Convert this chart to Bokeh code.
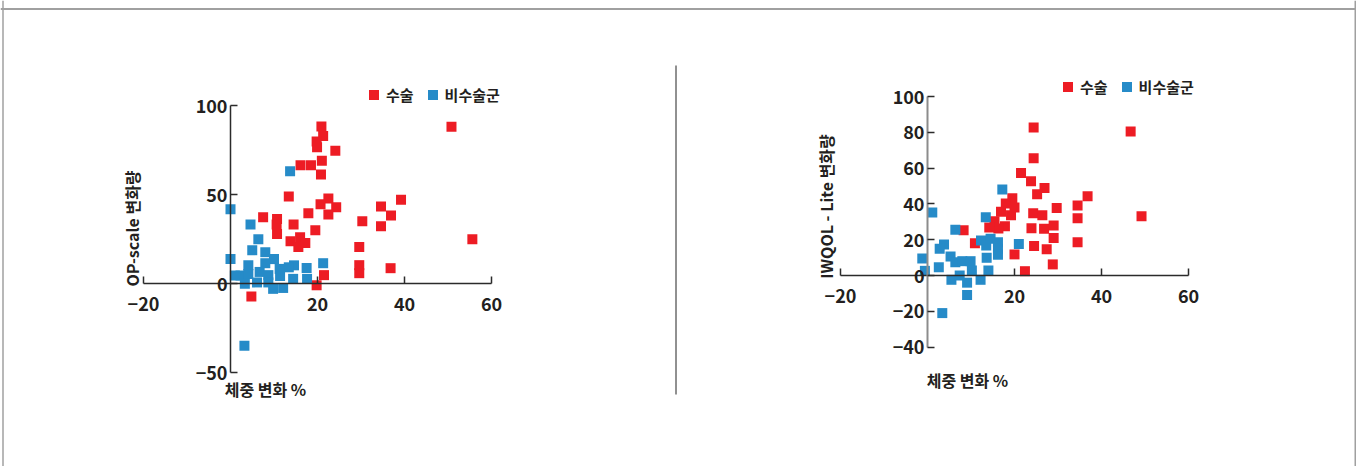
import math
from bokeh.plotting import figure
from bokeh.models import Range1d, LinearAxis, FixedTicker, Legend, LegendItem, Label, Span
from bokeh.embed import file_html
from bokeh.resources import INLINE

# ---------------- data ----------------
legend_labels = ["수술", "비수술군"]
x_title = "체중 변화 %"
op_title = "OP-scale 변화량"
iw_title = "IWQOL - Lite 변화량"

x_ticks = [-20, 20, 40, 60]
op_y_ticks = [-50, 0, 50, 100]
iw_y_ticks = [-40, -20, 0, 20, 40, 60, 80, 100]

op_surg_x = [20.9, 21.3, 19.8, 19.9, 24.1, 16.1, 18.5, 21.0, 20.8, 13.4, 22.5, 20.7, 24.3,
             22.5, 17.9, 7.5, 10.7, 10.6, 14.5, 10.7, 19.5, 13.8, 16.0, 17.2, 15.6, 30.3,
             34.6, 34.6, 36.9, 39.2, 29.6, 29.6, 29.6, 36.8, 21.5, 19.8, 4.8, 50.8, 55.6]
op_surg_y = [88.2, 82.8, 79.8, 76.5, 74.6, 66.4, 66.4, 69.0, 61.3, 48.9, 47.8, 44.5, 42.9,
             38.8, 39.5, 37.2, 36.2, 33.1, 33.2, 27.8, 29.9, 23.8, 26.0, 22.7, 20.5, 35.0,
             43.3, 32.1, 38.2, 47.1, 20.5, 10.3, 5.8, 8.6, 4.7, -1.0, -7.3, 88.1, 24.8]

op_non_x = [13.7, 0.0, 4.6, 6.4, 5.0, 8.0, 0.0, 10.0, 4.1, 8.0, 14.6, 13.4, 17.5, 21.3, 1.0,
            2.3, 4.1, 6.7, 8.7, 11.3, 11.4, 3.3, 6.1, 8.7, 9.8, 12.1, 14.4, 17.6, 3.2]
op_non_y = [63.1, 41.7, 33.2, 24.8, 18.7, 17.6, 13.7, 13.7, 10.3, 11.4, 10.2, 9.1, 8.7, 11.4,
            4.5, 4.5, 5.4, 6.5, 4.7, 8.2, 4.2, -0.1, 0.6, 0.6, -3.0, -2.5, 2.6, 2.6, -35.0]

iw_surg_x = [24.4, 24.4, 21.5, 23.8, 26.9, 25.2, 36.8, 46.7, 49.2, 34.5, 34.5, 34.5, 29.7,
             24.3, 26.4, 23.9, 26.8, 29.0, 29.0, 27.4, 24.5, 28.8, 20.0, 22.4, 8.3, 10.9,
             19.5, 18.0, 20.0, 16.9, 19.2, 15.4, 17.8, 16.3, 14.2]
iw_surg_y = [82.7, 65.5, 57.2, 52.6, 48.9, 45.4, 44.3, 80.4, 33.1, 39.1, 32.0, 18.6, 37.7,
             34.8, 33.7, 26.4, 26.1, 27.9, 20.9, 14.7, 16.5, 6.2, 11.8, 2.4, 25.3, 18.0,
             43.1, 40.2, 38.0, 35.6, 33.6, 30.3, 27.5, 26.3, 26.8]

iw_non_x = [17.2, 13.4, 1.1, 6.4, 3.8, 2.8, -1.2, -0.6, 2.6, 5.3, 6.4, 8.0, 9.9, 10.2, 5.5,
            7.4, 9.1, 9.1, 12.2, 3.4, 13.6, 14.0, 12.3, 14.5, 16.2, 13.5, 16.2, 16.2, 21.0]
iw_non_y = [48.1, 32.5, 35.2, 25.6, 17.3, 15.0, 9.5, 2.6, 4.6, 10.6, 7.4, 8.0, 8.0, 2.8, -2.4,
            0.0, -4.0, -10.9, -2.4, -21.0, 9.9, 2.8, 19.6, 20.5, 18.6, 16.8, 14.9, 11.6, 17.6]

# ---------------- style ----------------
RED = "#ED1C24"
BLUE = "#268BC8"
TXT = "#231F20"
AX = "#2B2B2B"
FONT = "Noto Sans CJK KR"

W, H = 1356, 466
p = figure(width=W, height=H, x_range=Range1d(0, W), y_range=Range1d(H, 0),
           x_axis_type=None, y_axis_type=None, toolbar_location=None,
           output_backend="svg", min_border=0, outline_line_color=None)
p.background_fill_color = "white"
p.border_fill_color = "white"

# panel geometry: pixel position of data origin and pixel per unit
p.extra_x_ranges = {
    "x1": Range1d(-230 / 4.35, (W - 230) / 4.35),
    "x2": Range1d(-927 / 4.35, (W - 927) / 4.35),
}
p.extra_y_ranges = {
    "y1": Range1d((283 - H) / 1.78, 283 / 1.78),
    "y2": Range1d((275 - H) / 1.79, 275 / 1.79),
}


def style_axis(ax, line_color=AX, line_width=1.5):
    ax.axis_line_color = line_color
    ax.axis_line_width = line_width
    ax.major_tick_line_color = AX
    ax.major_tick_line_width = 1.5
    ax.major_tick_in = 7
    ax.major_tick_out = 0
    ax.minor_tick_line_color = None
    ax.major_label_text_font = FONT
    ax.major_label_text_font_style = "bold"
    ax.major_label_text_font_size = "18px"
    ax.major_label_text_color = TXT


def add_panel(xr, yr, yticks, ybounds, sx, sy, nx, ny, yline_color, yline_width,
              ylabel, ylabel_pos, xlabel_pos, legend_loc):
    r_s = p.scatter(sx, sy, marker="square", size=10, color=RED, line_color=None,
                    x_range_name=xr, y_range_name=yr)
    r_n = p.scatter(nx, ny, marker="square", size=10, color=BLUE, line_color=None,
                    x_range_name=xr, y_range_name=yr)

    xax = LinearAxis(x_range_name=xr, y_range_name=yr, fixed_location=0,
                     bounds=(x_ticks[0], x_ticks[-1]), ticker=FixedTicker(ticks=x_ticks))
    style_axis(xax)
    xax.major_label_standoff = 13
    p.add_layout(xax, "below")

    yax = LinearAxis(x_range_name=xr, y_range_name=yr, fixed_location=0,
                     bounds=ybounds, ticker=FixedTicker(ticks=yticks))
    style_axis(yax, yline_color, yline_width)
    yax.major_label_standoff = 3
    p.add_layout(yax, "left")

    p.add_layout(Label(x=ylabel_pos[0], y=ylabel_pos[1], text=ylabel, angle=math.pi / 2,
                       text_align="center", text_baseline="middle", text_font=FONT,
                       text_font_style="bold", text_font_size="16px", text_color=TXT))
    p.add_layout(Label(x=xlabel_pos[0], y=xlabel_pos[1], text=x_title,
                       text_align="center", text_baseline="middle", text_font=FONT,
                       text_font_style="bold", text_font_size="16px", text_color=TXT))

    leg = Legend(items=[LegendItem(label=legend_labels[0], renderers=[r_s]),
                        LegendItem(label=legend_labels[1], renderers=[r_n])],
                 location=legend_loc, orientation="horizontal",
                 glyph_width=25, glyph_height=25, label_standoff=-5, spacing=6,
                 padding=0, margin=0, border_line_color=None, background_fill_alpha=0,
                 label_text_font=FONT, label_text_font_style="bold",
                 label_text_font_size="15px", label_text_color=TXT)
    p.add_layout(leg, "center")


add_panel("x1", "y1", op_y_ticks, (-50, 100), op_surg_x, op_surg_y, op_non_x, op_non_y,
          AX, 1.5, op_title, (131, 228), (265, 388), (361, 359))
add_panel("x2", "y2", iw_y_ticks, (-40, 100), iw_surg_x, iw_surg_y, iw_non_x, iw_non_y,
          "#8C8C8C", 2, iw_title, (825, 206), (967, 379), (1055, 367))

# outer frame and divider
p.add_layout(Span(location=8.5, dimension="width", line_color="#A0A0A0", line_width=2))
p.add_layout(Span(location=2.5, dimension="height", line_color="#A0A0A0", line_width=1.5))
p.add_layout(Span(location=1355, dimension="height", line_color="#A0A0A0", line_width=2))
p.segment(x0=[675.5], y0=[65], x1=[675.5], y1=[394], line_color="#222222", line_width=1)

open("out.html", "w").write(file_html(p, INLINE))
